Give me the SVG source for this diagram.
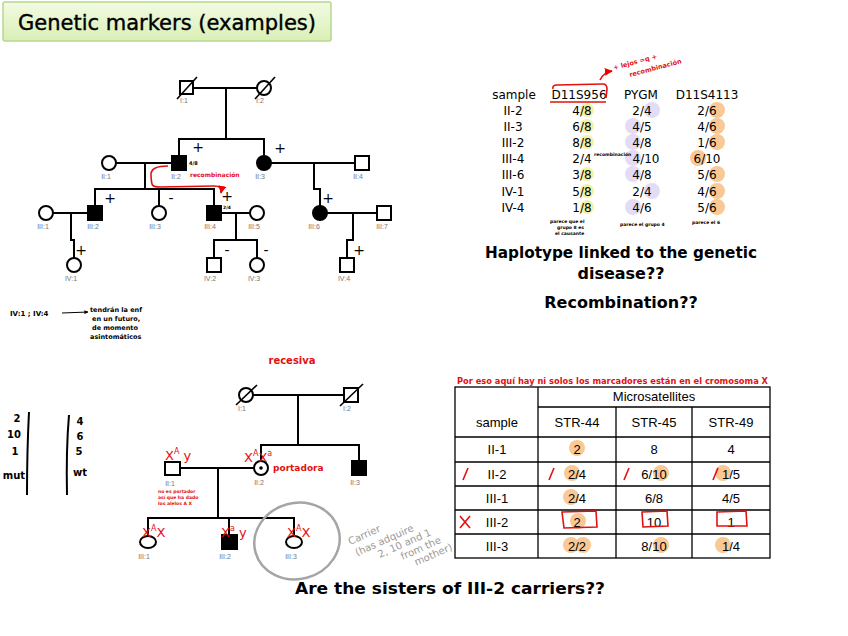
<svg xmlns="http://www.w3.org/2000/svg" width="848" height="636" viewBox="0 0 848 636">
<defs>
<linearGradient id="tg" x1="0" y1="0" x2="0" y2="1">
<stop offset="0" stop-color="#f3fbe4"/>
<stop offset="1" stop-color="#d9efb4"/>
</linearGradient>
<marker id="ar" viewBox="0 0 10 10" refX="9" refY="5" markerWidth="5" markerHeight="5" orient="auto"><path d="M0,0 L10,5 L0,10 z" fill="#e00"/></marker>
<marker id="ak" viewBox="0 0 10 10" refX="9" refY="5" markerWidth="4" markerHeight="4" orient="auto"><path d="M0,0 L10,5 L0,10 z" fill="#000"/></marker>
</defs>
<style>
.ln{stroke:#000;stroke-width:2;fill:none}
.sym{stroke:#000;stroke-width:2;fill:#fff}
.aff{stroke:#000;stroke-width:2;fill:#000}
.sl{stroke:#000;stroke-width:1.6}
.lbl{font-family:"Liberation Sans",Arial,sans-serif;font-size:7px;fill:#777;text-anchor:middle}
.pm{font-family:"DejaVu Sans",sans-serif;font-size:14px;text-anchor:middle;fill:#000}
.hw{font-family:"DejaVu Sans",sans-serif;font-weight:bold;fill:#000}
.red{fill:#e31010}
.rs{stroke:#e31010;stroke-width:1.6;fill:none}
.tt{font-family:"DejaVu Sans",sans-serif;font-size:12px;text-anchor:middle;fill:#000}
.big{font-family:"DejaVu Sans",sans-serif;font-weight:bold;font-size:16px;text-anchor:middle;fill:#000}
.tb{font-family:"Liberation Sans",Arial,sans-serif;font-size:13px;text-anchor:middle;fill:#000}
.grid{stroke:#000;stroke-width:1.3;fill:none}
.yc{fill:#f4f1a6}
.pc{fill:#e4dbf6}
.oc{fill:#f9c894}
.gx{font-family:"DejaVu Sans",sans-serif;font-size:10px;fill:#9a9a9a}
.gen{font-family:"DejaVu Sans",sans-serif;font-size:13px;fill:#e31010}
.sup{font-size:8px}
</style>

<!-- Title -->
<g id="title">
<rect x="3" y="2" width="328" height="39" rx="2" fill="url(#tg)" stroke="#b4d88e" stroke-width="1.5"/>
<text x="167" y="30" font-family="DejaVu Sans,sans-serif" font-size="22" text-anchor="middle" textLength="298" lengthAdjust="spacingAndGlyphs" stroke="#000" stroke-width="0.4">Genetic markers (examples)</text>
</g>

<!-- ===== Top pedigree connectors ===== -->
<g id="connectors-top">
<line class="ln" x1="193" y1="88" x2="257" y2="88"/>
<line class="ln" x1="226" y1="88" x2="226" y2="139"/>
<path class="ln" d="M179,156 V139 H264 V156"/>
<line class="ln" x1="116" y1="163" x2="172" y2="163"/>
<line class="ln" x1="145" y1="163" x2="145" y2="189"/>
<path class="ln" d="M95,206 V189 H214 V206"/>
<line class="ln" x1="159" y1="189" x2="159" y2="206"/>
<line class="ln" x1="53" y1="213" x2="88" y2="213"/>
<path class="ln" d="M71,213 V240 H74 V258"/>
<line class="ln" x1="221" y1="213" x2="250" y2="213"/>
<line class="ln" x1="236" y1="213" x2="236" y2="240"/>
<path class="ln" d="M214,258 V240 H257 V258"/>
<line class="ln" x1="271" y1="163" x2="355" y2="163"/>
<path class="ln" d="M314,163 V189 H320 V206"/>
<line class="ln" x1="327" y1="213" x2="377" y2="213"/>
<path class="ln" d="M353,213 V240 H347 V258"/>
</g>

<!-- Top pedigree nodes -->
<g id="t-I1"><rect class="sym" x="180" y="81" width="13" height="13"/><line class="sl" x1="177" y1="99" x2="197" y2="77"/><text class="lbl" x="184" y="103">I:1</text></g>
<g id="t-I2"><circle class="sym" cx="264" cy="88" r="7"/><line class="sl" x1="255" y1="99" x2="275" y2="77"/><text class="lbl" x="260" y="103">I:2</text></g>
<g id="t-II1"><circle class="sym" cx="109" cy="163" r="7"/><text class="lbl" x="106" y="179">II:1</text></g>
<g id="t-II2"><rect class="aff" x="172" y="156" width="14" height="14"/><text class="lbl" x="176" y="179">II:2</text><text class="hw" x="189" y="165" font-size="5">4/8</text><text class="pm" x="198" y="152">+</text></g>
<g id="t-II3"><circle class="aff" cx="264" cy="163" r="7"/><text class="lbl" x="260" y="179">II:3</text><text class="pm" x="280" y="153">+</text></g>
<g id="t-II4"><rect class="sym" x="355" y="156" width="14" height="14"/><text class="lbl" x="358" y="179">II:4</text></g>
<g id="t-III1"><circle class="sym" cx="46" cy="213" r="7"/><text class="lbl" x="43" y="229">III:1</text></g>
<g id="t-III2"><rect class="aff" x="88" y="206" width="14" height="14"/><text class="lbl" x="93" y="229">III:2</text><text class="pm" x="110" y="203">+</text></g>
<g id="t-III3"><circle class="sym" cx="159" cy="213" r="7"/><text class="lbl" x="155" y="229">III:3</text><text class="pm" x="171" y="203">-</text></g>
<g id="t-III4"><rect class="aff" x="207" y="206" width="14" height="14"/><text class="lbl" x="210" y="229">III:4</text><text class="hw" x="223" y="209" font-size="4.5">2/4</text><text class="pm" x="227" y="201" font-size="13">+</text></g>
<g id="t-III5"><circle class="sym" cx="257" cy="213" r="7"/><text class="lbl" x="254" y="229">III:5</text></g>
<g id="t-III6"><circle class="aff" cx="320" cy="213" r="7"/><text class="lbl" x="314" y="229">III:6</text><text class="pm" x="328" y="203">+</text></g>
<g id="t-III7"><rect class="sym" x="377" y="206" width="14" height="14"/><text class="lbl" x="382" y="229">III:7</text></g>
<g id="t-IV1"><circle class="sym" cx="74" cy="265" r="7"/><text class="lbl" x="71" y="281">IV:1</text><text class="pm" x="81" y="255">+</text></g>
<g id="t-IV2"><rect class="sym" x="207" y="258" width="14" height="14"/><text class="lbl" x="210" y="281">IV:2</text><text class="pm" x="227" y="255">-</text></g>
<g id="t-IV3"><circle class="sym" cx="257" cy="265" r="7"/><text class="lbl" x="254" y="281">IV:3</text><text class="pm" x="266" y="255">-</text></g>
<g id="t-IV4"><rect class="sym" x="340" y="258" width="14" height="14"/><text class="lbl" x="344" y="281">IV:4</text><text class="pm" x="359" y="255">+</text></g>

<!-- recombination annotation -->
<g id="recomb-note">
<path class="rs" d="M168,166 C158,166 150,168 151,176 C152,184 150,187 160,187 L214,186 C220,186 222,188 221,193" marker-end="url(#ar)"/>
<text class="hw red" x="190" y="177" font-size="6">recombinación</text>
</g>

<!-- left note -->
<g id="iv-note">
<text class="hw" x="10" y="316" font-size="7">IV:1 ; IV:4</text>
<line x1="62" y1="313" x2="88" y2="312" stroke="#000" stroke-width="1" marker-end="url(#ak)"/>
<text class="hw" x="90" y="312" font-size="6.5">tendrán la enf</text>
<text class="hw" x="92" y="321" font-size="6.5">en un futuro,</text>
<text class="hw" x="92" y="330" font-size="6.5">de momento</text>
<text class="hw" x="90" y="339" font-size="6.5">asintomáticos</text>
</g>

<!-- ===== Top-right haplotype table ===== -->
<g id="haplotype-table">
<g id="hl">
<circle class="yc" cx="587" cy="110" r="7"/><circle class="yc" cx="587" cy="126" r="7"/><circle class="yc" cx="587" cy="142" r="7"/>
<circle class="yc" cx="587" cy="174" r="7"/><circle class="yc" cx="587" cy="191" r="7"/><circle class="yc" cx="587" cy="207" r="7"/>
<circle class="pc" cx="652" cy="110" r="8"/><circle class="pc" cx="633" cy="126" r="8"/><circle class="pc" cx="633" cy="142" r="8"/>
<circle class="pc" cx="633" cy="158" r="8"/><circle class="pc" cx="633" cy="174" r="8"/><circle class="pc" cx="652" cy="191" r="8"/><circle class="pc" cx="633" cy="207" r="8"/>
<circle class="oc" cx="717" cy="110" r="8"/><circle class="oc" cx="717" cy="126" r="8"/><circle class="oc" cx="717" cy="142" r="8"/>
<circle class="oc" cx="698" cy="158" r="8"/><circle class="oc" cx="717" cy="174" r="8"/><circle class="oc" cx="717" cy="191" r="8"/><circle class="oc" cx="717" cy="207" r="8"/>
</g>
<text class="tt" x="514" y="99" font-size="11">sample</text>
<text class="tt" x="579" y="99">D11S956</text>
<text class="tt" x="641" y="99">PYGM</text>
<text class="tt" x="707" y="99">D11S4113</text>
<text class="tt" x="513" y="115">II-2</text><text class="tt" x="582" y="115">4/8</text><text class="tt" x="642" y="115">2/4</text><text class="tt" x="707" y="115">2/6</text>
<text class="tt" x="513" y="131">II-3</text><text class="tt" x="582" y="131">6/8</text><text class="tt" x="642" y="131">4/5</text><text class="tt" x="707" y="131">4/6</text>
<text class="tt" x="513" y="147">III-2</text><text class="tt" x="582" y="147">8/8</text><text class="tt" x="642" y="147">4/8</text><text class="tt" x="707" y="147">1/6</text>
<text class="tt" x="513" y="163">III-4</text><text class="tt" x="582" y="163">2/4</text><text class="tt" x="646" y="163">4/10</text><text class="tt" x="707" y="163">6/10</text>
<text class="tt" x="513" y="179">III-6</text><text class="tt" x="582" y="179">3/8</text><text class="tt" x="642" y="179">4/8</text><text class="tt" x="707" y="179">5/6</text>
<text class="tt" x="513" y="196">IV-1</text><text class="tt" x="582" y="196">5/8</text><text class="tt" x="642" y="196">2/4</text><text class="tt" x="707" y="196">4/6</text>
<text class="tt" x="513" y="212">IV-4</text><text class="tt" x="582" y="212">1/8</text><text class="tt" x="642" y="212">4/6</text><text class="tt" x="707" y="212">5/6</text>
<text class="hw" x="594" y="156" font-size="4.5">recombinación</text>
<text class="hw" x="550" y="223" font-size="4.5">parece que el</text>
<text class="hw" x="557" y="229" font-size="4.5">grupo 8 es</text>
<text class="hw" x="555" y="235" font-size="4.5">el causante</text>
<text class="hw" x="620" y="226" font-size="4.5">parece el grupo 4</text>
<text class="hw" x="692" y="224" font-size="4.5">parece el 6</text>
<path class="rs" d="M553,89 Q552,85 557,85 L603,84 Q607,84 607,89 L606,98"/>
<line class="rs" x1="550" y1="102" x2="606" y2="102"/>
<path class="rs" d="M600,80 Q604,72 612,71" marker-end="url(#ar)"/>
<text class="hw red" x="614" y="70" font-size="6.5" transform="rotate(-15 614 70)">+ lejos =q +</text>
<text class="hw red" x="630" y="77" font-size="6.5" transform="rotate(-15 630 77)">recombinación</text>
</g>

<text class="big" x="621" y="258" textLength="272" lengthAdjust="spacingAndGlyphs">Haplotype linked to the genetic</text>
<text class="big" x="621" y="279">disease??</text>
<text class="big" x="621" y="308">Recombination??</text>

<!-- ===== Bottom-left allele lists ===== -->
<g id="allele-lists">
<text class="hw" x="17" y="422" font-size="10" text-anchor="middle">2</text>
<text class="hw" x="14" y="438" font-size="10" text-anchor="middle">10</text>
<text class="hw" x="15" y="455" font-size="10" text-anchor="middle">1</text>
<text class="hw" x="14" y="479" font-size="10" text-anchor="middle">mut</text>
<path d="M29,412 Q27,450 27,495" stroke="#000" stroke-width="2" fill="none"/>
<path d="M69,415 Q66,450 67,495" stroke="#000" stroke-width="2" fill="none"/>
<text class="hw" x="80" y="425" font-size="10" text-anchor="middle">4</text>
<text class="hw" x="80" y="440" font-size="10" text-anchor="middle">6</text>
<text class="hw" x="79" y="455" font-size="10" text-anchor="middle">5</text>
<text class="hw" x="80" y="476" font-size="10" text-anchor="middle">wt</text>
</g>

<!-- ===== Bottom pedigree ===== -->
<text class="hw red" x="292" y="364" font-size="10" text-anchor="middle">recesiva</text>
<g id="connectors-bottom">
<line class="ln" x1="253" y1="395" x2="344" y2="395"/>
<line class="ln" x1="298" y1="395" x2="298" y2="445"/>
<path class="ln" d="M261,461 V445 H359 V461"/>
<line class="ln" x1="180" y1="468" x2="254" y2="468"/>
<line class="ln" x1="218" y1="468" x2="218" y2="518"/>
<path class="ln" d="M148,536 V518 H294 V536"/>
<line class="ln" x1="229" y1="518" x2="229" y2="535"/>
</g>
<g id="b-I1"><circle class="sym" cx="246" cy="395" r="7"/><line class="sl" x1="236" y1="405" x2="257" y2="385"/><text class="lbl" x="242" y="411">I:1</text></g>
<g id="b-I2"><rect class="sym" x="344" y="388" width="14" height="14"/><line class="sl" x1="340" y1="406" x2="363" y2="384"/><text class="lbl" x="347" y="411">I:2</text></g>
<g id="b-II1"><rect class="sym" x="165" y="462" width="15" height="13"/><text class="lbl" x="170" y="486">II:1</text>
<text class="gen" x="165" y="460">X<tspan class="sup" dy="-6">A</tspan><tspan dy="6"> y</tspan></text>
<text class="hw red" x="158" y="493" font-size="4.5">no es portador</text>
<text class="hw red" x="158" y="499" font-size="4.5">así que ha dado</text>
<text class="hw red" x="158" y="505" font-size="4.5">los alelos A X</text></g>
<g id="b-II2"><circle class="sym" cx="261" cy="468" r="7"/><circle cx="261" cy="468" r="1.8" fill="#000"/><text class="lbl" x="259" y="485">II:2</text>
<text class="gen" x="244" y="462">X<tspan class="sup" dy="-6">A</tspan><tspan dy="6">X</tspan><tspan class="sup" dy="-6">a</tspan></text>
<text class="hw red" x="273" y="471" font-size="9">portadora</text></g>
<g id="b-II3"><rect class="aff" x="352" y="461" width="14" height="14"/><text class="lbl" x="355" y="485">II:3</text></g>
<g id="b-III1"><ellipse class="sym" cx="148" cy="542" rx="8" ry="6"/><text class="lbl" x="144" y="559">III:1</text>
<text class="gen" x="142" y="537">X<tspan class="sup" dy="-6">A</tspan><tspan dy="6">X</tspan></text></g>
<g id="b-III2"><rect class="aff" x="222" y="535" width="15" height="14"/><text class="lbl" x="225" y="559">III:2</text>
<text class="gen" x="221" y="537">X<tspan class="sup" dy="-6">a</tspan><tspan dy="6"> y</tspan></text></g>
<g id="b-III3"><ellipse class="sym" cx="294" cy="542" rx="8" ry="6"/><text class="lbl" x="291" y="559">III:3</text>
<text class="gen" x="287" y="537">X<tspan class="sup" dy="-6">A</tspan><tspan dy="6">X</tspan></text></g>
<ellipse cx="297" cy="541" rx="43" ry="38" fill="none" stroke="#a5a5a5" stroke-width="2.5" transform="rotate(-15 297 541)"/>
<g id="carrier-note" transform="rotate(-24 350 545)">
<text class="gx" x="350" y="545" font-size="11">Carrier</text>
<text class="gx" x="352" y="558">(has adquire</text>
<text class="gx" x="372" y="569">2, 10 and 1</text>
<text class="gx" x="392" y="580">from the</text>
<text class="gx" x="402" y="591">mother)</text>
</g>

<!-- ===== Bottom-right microsatellite table ===== -->
<text class="hw red" x="457" y="384" font-size="8" textLength="311" lengthAdjust="spacingAndGlyphs">Por eso aquí hay ni solos los marcadores están en el cromosoma X</text>
<g id="micro-table">
<g id="mhl">
<circle class="oc" cx="577" cy="448" r="8"/>
<circle class="oc" cx="572" cy="473" r="8"/><circle class="oc" cx="661" cy="473" r="8"/><circle class="oc" cx="723" cy="473" r="8"/>
<circle class="oc" cx="571" cy="497" r="8"/>
<circle class="oc" cx="578" cy="521" r="8"/>
<circle class="oc" cx="571" cy="545" r="8"/><circle class="oc" cx="583" cy="545" r="8"/><circle class="oc" cx="661" cy="545" r="8"/><circle class="oc" cx="723" cy="545" r="8"/>
</g>
<rect class="grid" x="455" y="387" width="315" height="171"/>
<line class="grid" x1="538" y1="387" x2="538" y2="558"/>
<line class="grid" x1="616" y1="407" x2="616" y2="558"/>
<line class="grid" x1="692" y1="407" x2="692" y2="558"/>
<line class="grid" x1="538" y1="407" x2="770" y2="407"/>
<line class="grid" x1="455" y1="437" x2="770" y2="437"/>
<line class="grid" x1="455" y1="462" x2="770" y2="462"/>
<line class="grid" x1="455" y1="486" x2="770" y2="486"/>
<line class="grid" x1="455" y1="510" x2="770" y2="510"/>
<line class="grid" x1="455" y1="534" x2="770" y2="534"/>
<text class="tb" x="654" y="401">Microsatellites</text>
<text class="tb" x="497" y="427">sample</text><text class="tb" x="577" y="427">STR-44</text><text class="tb" x="654" y="427">STR-45</text><text class="tb" x="731" y="427">STR-49</text>
<text class="tb" x="497" y="454">II-1</text><text class="tb" x="577" y="454">2</text><text class="tb" x="654" y="454">8</text><text class="tb" x="731" y="454">4</text>
<text class="tb" x="497" y="479">II-2</text><text class="tb" x="577" y="479">2/4</text><text class="tb" x="654" y="479">6/10</text><text class="tb" x="731" y="479">1/5</text>
<text class="tb" x="497" y="503">III-1</text><text class="tb" x="577" y="503">2/4</text><text class="tb" x="654" y="503">6/8</text><text class="tb" x="731" y="503">4/5</text>
<text class="tb" x="497" y="527">III-2</text><text class="tb" x="577" y="527">2</text><text class="tb" x="654" y="527">10</text><text class="tb" x="731" y="527">1</text>
<text class="tb" x="497" y="551">III-3</text><text class="tb" x="577" y="551">2/2</text><text class="tb" x="654" y="551">8/10</text><text class="tb" x="731" y="551">1/4</text>
<g id="red-marks">
<line class="rs" x1="463" y1="480" x2="468" y2="468"/>
<line class="rs" x1="549" y1="480" x2="554" y2="468"/>
<line class="rs" x1="624" y1="480" x2="629" y2="468"/>
<line class="rs" x1="713" y1="480" x2="718" y2="468"/>
<path class="rs" d="M460,516 L470,528 M470,516 L460,528"/>
<path class="rs" d="M562,512 L596,511 L597,527 L564,528 Z"/>
<path class="rs" d="M642,512 L667,511 L668,526 L643,527 Z"/>
<path class="rs" d="M717,512 L746,511 L747,526 L717,526 Z"/>
</g>
</g>

<text class="big" x="450" y="594" textLength="310" lengthAdjust="spacingAndGlyphs">Are the sisters of III-2 carriers??</text>
</svg>
